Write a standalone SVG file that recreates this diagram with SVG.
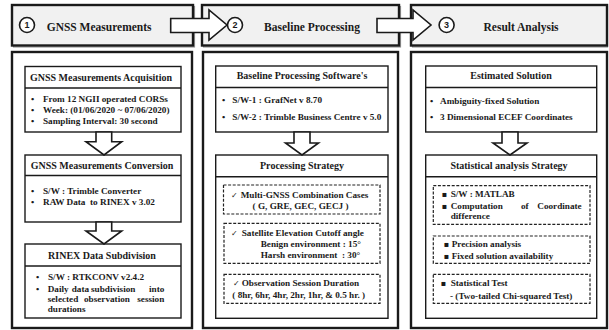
<svg xmlns="http://www.w3.org/2000/svg" width="609" height="330" viewBox="0 0 609 330">
<defs>
<style>
.hdr{fill:#f1f1f1;stroke:#1a1a1a;stroke-width:2.4}
.shadow{fill:none;stroke:#9a9a9a;stroke-width:1.2}
.col{fill:#ffffff;stroke:#1a1a1a;stroke-width:2.4}
.box{fill:#ffffff;stroke:#1a1a1a;stroke-width:1.4}
.div{stroke:#1a1a1a;stroke-width:1.4}
.dash{fill:#ffffff;stroke:#222;stroke-width:1.2;stroke-dasharray:3 1.6}
.arr{fill:#ffffff;stroke:#1a1a1a;stroke-width:1.6;stroke-linejoin:miter}
.circ{fill:#ffffff;stroke:#1a1a1a;stroke-width:1.6}
text{font-family:"Liberation Serif","Times New Roman",serif;font-weight:bold;fill:#1a1a1a}
.h{font-size:11.5px}
.num{font-family:"Liberation Sans",Arial,sans-serif;font-size:9px;text-anchor:middle}
.t{font-size:10px;text-anchor:middle}
.b{font-size:9.2px}
.e{text-anchor:end}
.sym{font-family:"DejaVu Sans",sans-serif;font-weight:normal}
</style>
</defs>
<rect width="609" height="330" fill="#ffffff"/>

<!-- Header steps -->
<g id="step1">
<rect class="shadow" x="13.5" y="6.5" width="181" height="40.5"/>
<rect class="hdr" x="12" y="5" width="181" height="40.5"/>
<circle class="circ" cx="27" cy="25" r="7.5"/>
<text class="num" x="27" y="28.3">1</text>
<text class="h" x="46.7" y="30.5">GNSS Measurements</text>
</g>
<g id="step2">
<rect class="shadow" x="203.5" y="6.5" width="197" height="40.5"/>
<rect class="hdr" x="202" y="5" width="197" height="40.5"/>
<circle class="circ" cx="235" cy="25" r="7.5"/>
<text class="num" x="235" y="28.3">2</text>
<text class="h" x="264" y="30.5">Baseline Processing</text>
</g>
<g id="step3">
<rect class="shadow" x="412.5" y="6.5" width="195" height="40.5"/>
<rect class="hdr" x="411" y="5" width="196" height="40.5"/>
<circle class="circ" cx="446.6" cy="25" r="7.5"/>
<text class="num" x="446.6" y="28.3">3</text>
<text class="h" x="483.5" y="30.5">Result Analysis</text>
</g>

<!-- Column 1 -->
<g id="col1">
<rect class="col" x="12" y="52" width="180" height="276"/>
</g>
<g id="acquisition">
<rect class="box" x="25" y="66.5" width="156" height="65.5"/>
<line class="div" x1="25" y1="88" x2="181" y2="88"/>
<text class="t" x="101" y="80.5">GNSS Measurements Acquisition</text>
<text class="b" x="31" y="101.5">•</text><text class="b" x="43" y="101.5">From 12 NGII operated CORSs</text>
<text class="b" x="31" y="112.5">•</text><text class="b" x="43" y="112.5">Week: (01/06/2020 ~ 07/06/2020)</text>
<text class="b" x="31" y="123.5">•</text><text class="b" x="43" y="123.5">Sampling Interval: 30 second</text>
</g>
<g id="conversion">
<rect class="box" x="25" y="155" width="156" height="67"/>
<line class="div" x1="25" y1="175.5" x2="181" y2="175.5"/>
<text class="t" x="102" y="169">GNSS Measurements Conversion</text>
<text class="b" x="31" y="193.7">•</text><text class="b" x="43" y="193.7">S/W : Trimble Converter</text>
<text class="b" x="31" y="204.7">•</text><text class="b" x="43" y="204.7">RAW Data&#160; to RINEX v 3.02</text>
</g>
<g id="subdivision">
<rect class="box" x="25" y="244" width="156" height="74"/>
<line class="div" x1="25" y1="266" x2="181" y2="266"/>
<text class="t" x="102" y="259">RINEX Data Subdivision</text>
<text class="b" x="36" y="280">•</text><text class="b" x="48" y="280">S/W : RTKCONV v2.4.2</text>
<text class="b" x="36" y="292">•</text>
<text class="b" x="47.7" y="292">Daily</text>
<text class="b" x="71.7" y="292">data</text>
<text class="b" x="91" y="292">subdivision</text>
<text class="b e" x="164.3" y="292">into</text>
<text class="b" x="47.7" y="302">selected</text>
<text class="b" x="84" y="302">observation</text>
<text class="b e" x="164.3" y="302">session</text>
<text class="b" x="47.7" y="312">durations</text>
</g>

<!-- Column 2 -->
<g id="col2">
<rect class="col" x="203" y="52" width="195" height="276"/>
</g>
<g id="software">
<rect class="box" x="215.7" y="66" width="172.3" height="66"/>
<line class="div" x1="215.7" y1="87.5" x2="388" y2="87.5"/>
<text class="t" x="302" y="79.2">Baseline Processing Software's</text>
<text class="b" x="222" y="103">•</text><text class="b" x="232.3" y="103">S/W-1 : GrafNet v 8.70</text>
<text class="b" x="222" y="119.7">•</text><text class="b" x="232.3" y="119.7">S/W-2 : Trimble Business Centre v 5.0</text>
</g>
<g id="strategy">
<rect class="box" x="215.7" y="155" width="172.3" height="163.3"/>
<line class="div" x1="215.7" y1="176.7" x2="388" y2="176.7"/>
<text class="t" x="302" y="168.5">Processing Strategy</text>
<rect class="dash" x="223.5" y="185" width="156.5" height="29"/>
<text class="b" x="231" y="198"><tspan class="sym" font-size="8">✓</tspan></text><text class="b" x="240.7" y="198">Multi-GNSS Combination Cases</text>
<text class="b" x="300.6" y="209" text-anchor="middle">( G, GRE, GEC, GECJ )</text>
<rect class="dash" x="224" y="223.3" width="156" height="40"/>
<text class="b" x="231" y="236.3"><tspan class="sym" font-size="8">✓</tspan></text><text class="b" x="241.7" y="236.3">Satellite Elevation Cutoff angle</text>
<text class="b" x="260.7" y="247">Benign environment : 15°</text>
<text class="b" x="260.7" y="258">Harsh environment&#160; : 30°</text>
<rect class="dash" x="224" y="274.3" width="156" height="29"/>
<text class="b" x="233" y="286.3"><tspan class="sym" font-size="8">✓</tspan></text><text class="b" x="241.7" y="286.3">Observation Session Duration</text>
<text class="b" x="232.3" y="298">( 8hr, 6hr, 4hr, 2hr, 1hr, &amp; 0.5 hr. )</text>
</g>

<!-- Column 3 -->
<g id="col3">
<rect class="col" x="411" y="52" width="196" height="276"/>
</g>
<g id="solution">
<rect class="box" x="425.7" y="66" width="171" height="66"/>
<line class="div" x1="425.7" y1="87.5" x2="596.7" y2="87.5"/>
<text class="t" x="511" y="79.2">Estimated Solution</text>
<text class="b" x="430" y="104">•</text><text class="b" x="440" y="104">Ambiguity-fixed Solution</text>
<text class="b" x="430" y="120.3">•</text><text class="b" x="440" y="120.3">3 Dimensional ECEF Coordinates</text>
</g>
<g id="statistics">
<rect class="box" x="425.7" y="155" width="171" height="163.3"/>
<line class="div" x1="425.7" y1="176.7" x2="596.7" y2="176.7"/>
<text class="t" x="509" y="168.5">Statistical analysis Strategy</text>
<rect class="dash" x="433.3" y="185.7" width="156.7" height="38.6"/>
<text class="b" x="441.5" y="197.3"><tspan class="sym" font-size="8">▪</tspan></text><text class="b" x="450.7" y="197.3">S/W : MATLAB</text>
<text class="b" x="441.5" y="208.7"><tspan class="sym" font-size="8">▪</tspan></text>
<text class="b" x="450.7" y="208.7">Computation</text>
<text class="b" x="521" y="208.7">of</text>
<text class="b e" x="581.7" y="208.7">Coordinate</text>
<text class="b" x="450.7" y="219">difference</text>
<rect class="dash" x="433.3" y="236" width="156.7" height="27.3"/>
<text class="b" x="443.5" y="247"><tspan class="sym" font-size="8">▪</tspan></text><text class="b" x="451.7" y="247">Precision analysis</text>
<text class="b" x="443.5" y="258.7"><tspan class="sym" font-size="8">▪</tspan></text><text class="b" x="451.7" y="258.7">Fixed solution availability</text>
<rect class="dash" x="433.3" y="274.3" width="156.7" height="29"/>
<text class="b" x="440.5" y="286.3"><tspan class="sym" font-size="8">▪</tspan></text><text class="b" x="450.7" y="286.3">Statistical Test</text>
<text class="b" x="450" y="299">- (Two-tailed Chi-squared Test)</text>
</g>

<!-- Connectors -->
<g id="connectors">
<polygon class="arr" points="170.7,18.5 209,18.5 209,10 227,25 209,40 209,32.5 170.7,32.5"/>
<polygon class="arr" points="377,18.5 413,18.5 413,10 431,25 413,40 413,32.5 377,32.5"/>
<polygon class="arr" points="96,132 111.7,132 111.7,141.7 121.7,141.7 104,155 86,141.7 96,141.7"/>
<polygon class="arr" points="96,222 111.7,222 111.7,231 121.7,231 104,244 86,231 96,231"/>
<polygon class="arr" points="294,132 310,132 310,143 318.5,143 302,155 285.5,143 294,143"/>
<polygon class="arr" points="502,132 518,132 518,143 527,143 510,155 493,143 502,143"/>
</g>
</svg>
